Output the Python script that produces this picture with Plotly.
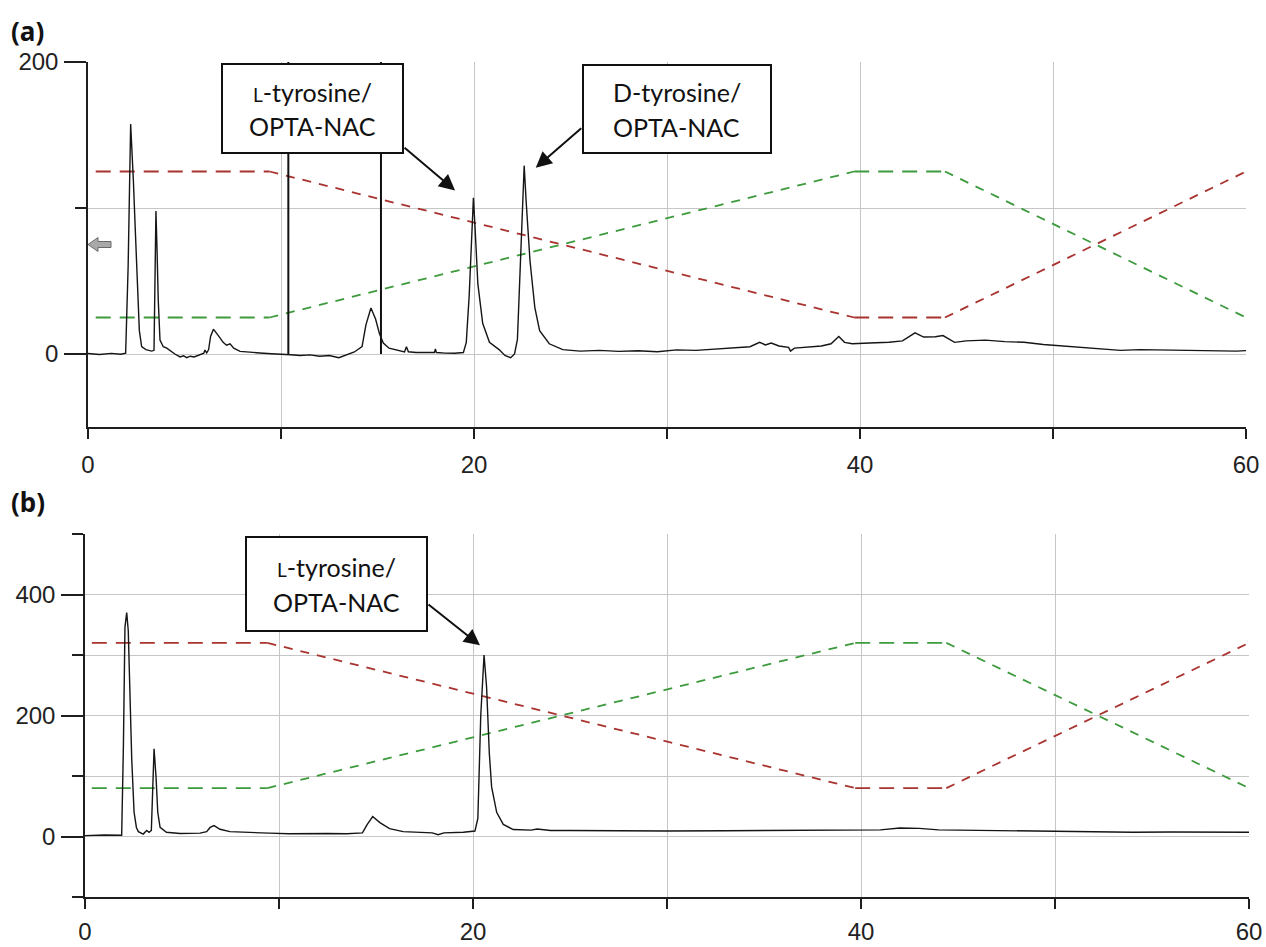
import plotly.graph_objects as go

# ---------------- data ----------------
# Panel (a) chromatogram: retention time (min) and detector signal
time_a = [0.0, 0.6, 1.2, 1.7, 1.95, 2.08, 2.21, 2.28, 2.35, 2.45, 2.52, 2.60, 2.66, 2.78, 3.0, 3.3,
          3.42, 3.47, 3.52, 3.58, 3.64, 3.73, 3.9, 4.08, 4.33, 4.5, 4.77, 4.95, 5.11, 5.3, 5.5, 5.8,
          6.0, 6.06, 6.15, 6.25, 6.35, 6.5, 6.65, 6.84, 7.0, 7.18, 7.36, 7.55, 7.88, 8.4, 8.9, 9.5,
          10.0, 10.5, 11.0, 11.5, 12.0, 12.5, 13.0, 13.3, 13.8, 14.2, 14.4, 14.66, 14.9, 15.1, 15.2,
          15.3, 15.6, 16.0, 16.4, 16.5, 16.6, 17.0, 17.5, 17.95, 18.0, 18.05, 18.5, 19.0, 19.45, 19.6,
          19.75, 19.88, 19.97, 20.06, 20.2, 20.45, 20.8, 21.3, 21.6, 21.9, 22.1, 22.25, 22.4, 22.52,
          22.6, 22.7, 22.9, 23.15, 23.4, 23.9, 24.6, 25.5, 26.5, 27.5, 28.5, 29.5, 30.5, 31.5, 32.5,
          33.5, 34.3, 34.8, 35.1, 35.4, 35.8, 36.3, 36.4, 36.6, 37.3, 38.0, 38.5, 38.9, 39.2, 39.6,
          40.5, 41.5, 42.2, 42.85, 43.3, 43.9, 44.3, 44.6, 44.9, 45.5, 46.5, 47.5, 48.5, 49.5, 50.5,
          51.5, 52.5, 53.5, 54.5, 55.5, 56.5, 57.5, 58.5, 59.5, 60.0]
signal_a = [0.3, -0.3, 0.4, -0.2, 0.5, 60, 157.5, 140, 119, 85, 64, 35, 16, 5, 3, 2,
            2.5, 50, 98, 70, 37, 9.6, 5, 4, 1.5, 0, -2, -1.2, -2.5, -1.5, -2, -0.7,
            0.5, 2.7, 0.7, 3, 12, 17, 14, 11, 8, 6, 7, 4, 1.8, 1.0, 0.7, 0.2,
            0, -0.5, -1, -0.6, -1.5, -1, -2.5, -1, 1.4, 5, 20, 31.5, 24, 14, 11,
            7.5, 4, 2.5, 1.5, 5, 1.5, 1, 0.8, 1, 3.5, 1, 0.6, 0.5, 1, 8,
            40, 85, 107, 85, 48, 21, 8, 3, -1, -2.5, 0, 10, 60, 110,
            129, 105, 64, 32, 16, 7, 3, 2, 2.5, 1.8, 2.2, 1.5, 2.8, 2.5, 3.5,
            4.2, 5, 8, 6.2, 7.5, 5.5, 4.5, 2, 4, 5, 5.5, 7, 12, 8, 7,
            7.5, 8, 9, 14.5, 11.6, 11.8, 12.6, 10, 8, 9, 9.5, 8.5, 8, 6.5, 5.5,
            4.5, 3, 2.5, 3, 2.7, 2.8, 2.5, 2.2, 2, 2.3]

# Panel (b) chromatogram
time_b = [0.0, 1.0, 1.89, 1.98, 2.06, 2.15, 2.23, 2.32, 2.41, 2.53, 2.65, 2.75, 3.0, 3.18, 3.3,
          3.42, 3.5, 3.56, 3.66, 3.75, 3.87, 4.2, 4.9, 5.5, 5.93, 6.27, 6.45, 6.65, 6.96, 7.47,
          8.33, 9.5, 10.5, 11.5, 12.5, 13.5, 14.3, 14.55, 14.83, 15.2, 15.7, 16.4, 17.2, 17.9,
          18.2, 18.5, 19.5, 20.1, 20.25, 20.4, 20.57, 20.7, 20.84, 20.96, 21.22, 21.56, 22.07,
          23.0, 23.3, 24.0, 25.0, 27.0, 30.0, 33.0, 36.0, 39.0, 41.0, 42.0, 43.0, 44.0, 46.0,
          48.0, 50.0, 52.0, 54.0, 56.0, 58.0, 60.0]
signal_b = [1.5, 2.5, 2, 150, 346, 370, 340, 237, 127, 40, 15, 8, 4, 10, 7,
            10, 90, 145, 99, 40, 15, 7, 5, 5, 5.5, 8, 15, 18, 12, 8,
            6.6, 5.5, 4.5, 5, 5, 4.5, 6, 20, 33, 23, 13, 8, 7.5, 6,
            3, 6, 7, 9, 30, 200, 300, 247, 138, 82, 40, 20, 11.5,
            10.5, 12.5, 10, 10, 9.5, 9, 9.5, 10, 10.5, 11, 14, 13.5, 11, 10,
            9, 8, 7.5, 7, 7.5, 7, 7]

# Gradient programme overlays (scaled to each panel's axis)
grad_time = [0.4, 9.4, 39.7, 44.4, 60.0]
red_a = [125, 125, 25, 25, 125]
green_a = [25, 25, 125, 125, 25]
grad_time_b = [0.35, 9.4, 39.7, 44.4, 60.0]
red_b = [320, 320, 80, 80, 320]
green_b = [80, 80, 320, 320, 80]

# integration event marks in panel (a)
event_times_a = [10.38, 15.18]
event_top_a = 200

# axis ticks
x_major = [0, 20, 40, 60]
x_minor = [10, 30, 50]
ya_major = [0, 200]
ya_minor = [100]
yb_major = [0, 200, 400]
yb_minor = [-100, 100, 300, 500]

# peak label texts
label_L = ['<span style="font-size:19px">L</span>-tyrosine/', 'OPTA-NAC']
label_D = ['D-tyrosine/', 'OPTA-NAC']

# ---------------- figure ----------------
W, H = 1266, 947
def fx(p):
    return p / W
def fy(p):
    return 1 - p / H

RED = "#a8332f"
GREEN = "#3d9a3d"
AXC = "#1e1e1e"
GRID = "#c6c6c6"
TICKFONT = dict(family="Liberation Sans, Arial", size=24, color="#222222")

fig = go.Figure()

def split_segments(xs, ys):
    flat_x, flat_y, slope_x, slope_y = [], [], [], []
    for i in range(len(xs) - 1):
        if ys[i] == ys[i + 1]:
            flat_x += [xs[i], xs[i + 1], None]
            flat_y += [ys[i], ys[i + 1], None]
        else:
            slope_x += [xs[i], xs[i + 1], None]
            slope_y += [ys[i], ys[i + 1], None]
    return flat_x, flat_y, slope_x, slope_y

for xs, ys, col, xa, ya in [(grad_time, red_a, RED, "x", "y"), (grad_time, green_a, GREEN, "x", "y"),
                            (grad_time_b, red_b, RED, "x2", "y2"), (grad_time_b, green_b, GREEN, "x2", "y2")]:
    fxs, fys, sxs, sys_ = split_segments(xs, ys)
    fig.add_trace(go.Scatter(x=fxs, y=fys, mode="lines", xaxis=xa, yaxis=ya,
                             line=dict(color=col, width=1.8, dash="15px,9px"), showlegend=False))
    fig.add_trace(go.Scatter(x=sxs, y=sys_, mode="lines", xaxis=xa, yaxis=ya,
                             line=dict(color=col, width=1.8, dash="9px,8px"), showlegend=False))

# event marker lines
ev_x, ev_y = [], []
for t in event_times_a:
    ev_x += [t, t, None]
    ev_y += [0, event_top_a, None]
fig.add_trace(go.Scatter(x=ev_x, y=ev_y, mode="lines", xaxis="x", yaxis="y",
                         line=dict(color="#111111", width=2), showlegend=False))

fig.add_trace(go.Scatter(x=time_a, y=signal_a, mode="lines", xaxis="x", yaxis="y",
                         line=dict(color="#151515", width=1.4), showlegend=False))
fig.add_trace(go.Scatter(x=time_b, y=signal_b, mode="lines", xaxis="x2", yaxis="y2",
                         line=dict(color="#151515", width=1.4), showlegend=False))

def xaxis_cfg(domain, anchor, standoff):
    return dict(domain=domain, anchor=anchor, range=[0, 60], showline=True, linecolor=AXC, linewidth=1.5,
                ticks="outside", tickvals=x_major, ticktext=[str(v) for v in x_major], ticklen=10,
                tickwidth=1.5, tickcolor=AXC, showgrid=True, gridcolor=GRID, gridwidth=1.3,
                zeroline=False, tickfont=TICKFONT, ticklabelstandoff=standoff, fixedrange=True,
                automargin=False,
                minor=dict(tickvals=x_minor, ticklen=10, tickwidth=1.5, tickcolor=AXC, ticks="outside",
                           showgrid=True, gridcolor=GRID, gridwidth=1.3))

def yaxis_cfg(domain, anchor, rng, major, minor):
    return dict(domain=domain, anchor=anchor, range=rng, showline=True, linecolor=AXC, linewidth=1.5,
                ticks="outside", tickvals=major, ticktext=[str(v) for v in major], ticklen=22,
                tickwidth=1.5, tickcolor=AXC, showgrid=True, gridcolor=GRID, gridwidth=1.3,
                zeroline=False, tickfont=TICKFONT, ticklabelstandoff=1, fixedrange=True, automargin=False,
                minor=dict(tickvals=minor, ticklen=11, tickwidth=1.5, tickcolor=AXC, ticks="outside",
                           showgrid=True, gridcolor=GRID, gridwidth=1.3))

fig.update_layout(
    width=W, height=H, margin=dict(l=0, r=0, t=0, b=0, autoexpand=False),
    paper_bgcolor="white", plot_bgcolor="white", showlegend=False,
    xaxis=xaxis_cfg([fx(88), fx(1246)], "y", 5),
    yaxis=yaxis_cfg([fy(427), fy(62)], "x", [-50, 200], ya_major, ya_minor),
    xaxis2=xaxis_cfg([fx(85), fx(1249)], "y2", 2),
    yaxis2=yaxis_cfg([fy(897), fy(534)], "x2", [-100, 500], yb_major, yb_minor),
)

shapes = []
# long end ticks below the x axes
for xv in [0, 60]:
    shapes.append(dict(type="line", xref="x", yref="y", x0=xv, x1=xv, ysizemode="pixel", yanchor=-50,
                       y0=0, y1=-20, line=dict(color=AXC, width=1.5)))
    shapes.append(dict(type="line", xref="x2", yref="y2", x0=xv, x1=xv, ysizemode="pixel", yanchor=-100,
                       y0=0, y1=-22, line=dict(color=AXC, width=1.5)))
# small grey arrow marker at the y axis of panel (a)
shapes.append(dict(type="path", xref="x", yref="y", xsizemode="pixel", ysizemode="pixel",
                   xanchor=0, yanchor=75,
                   path="M 0 0 L 10 7 L 10 3 L 23 3 L 23 -3 L 10 -3 L 10 -7 Z",
                   fillcolor="#a9a9a9", line=dict(color="#6a6a6a", width=1)))

# label boxes (pixel positions on the page)
boxes = [(222, 64, 403, 153, label_L), (583, 65, 771, 153, label_D), (246, 537, 427, 631, label_L)]
for x0, y0, x1, y1, _ in boxes:
    shapes.append(dict(type="rect", xref="paper", yref="paper", x0=fx(x0), x1=fx(x1), y0=fy(y1), y1=fy(y0),
                       fillcolor="white", line=dict(color="#111111", width=2), layer="above"))
fig.update_layout(shapes=shapes)

LBL = dict(family="Lato, Open Sans", size=25, color="#111111")
anns = []
# panel labels
anns.append(dict(text="<b>(a)</b>", xref="paper", yref="paper", x=fx(9), y=fy(31), xanchor="left",
                 yanchor="middle", showarrow=False, font=dict(family="Noto Sans", size=26, color="#111")))
anns.append(dict(text="<b>(b)</b>", xref="paper", yref="paper", x=fx(9), y=fy(502), xanchor="left",
                 yanchor="middle", showarrow=False, font=dict(family="Noto Sans", size=26, color="#111")))

for x0, y0, x1, y1, lines in boxes:
    cx = (x0 + x1) / 2
    cy = (y0 + y1) / 2
    for text, dy in zip(lines, [-17, 18]):
        anns.append(dict(text=text, xref="paper", yref="paper", x=fx(cx), y=fy(cy + dy), xanchor="center",
                         yanchor="middle", showarrow=False, font=LBL))

def arrow(xa, ya, x, y, ax, ay):
    return dict(text="", xref=xa, yref=ya, x=x, y=y, ax=ax, ay=ay, showarrow=True, arrowhead=2,
                arrowsize=1.6, arrowwidth=2, arrowcolor="#111111", standoff=0)

anns.append(arrow("x", "y", 19.02, 112, -52, -44))
anns.append(arrow("x", "y", 23.2, 127.5, 47, -41))
anns.append(arrow("x2", "y2", 20.36, 316, -53, -42))
fig.update_layout(annotations=anns)

fig.write_html("out.html")
